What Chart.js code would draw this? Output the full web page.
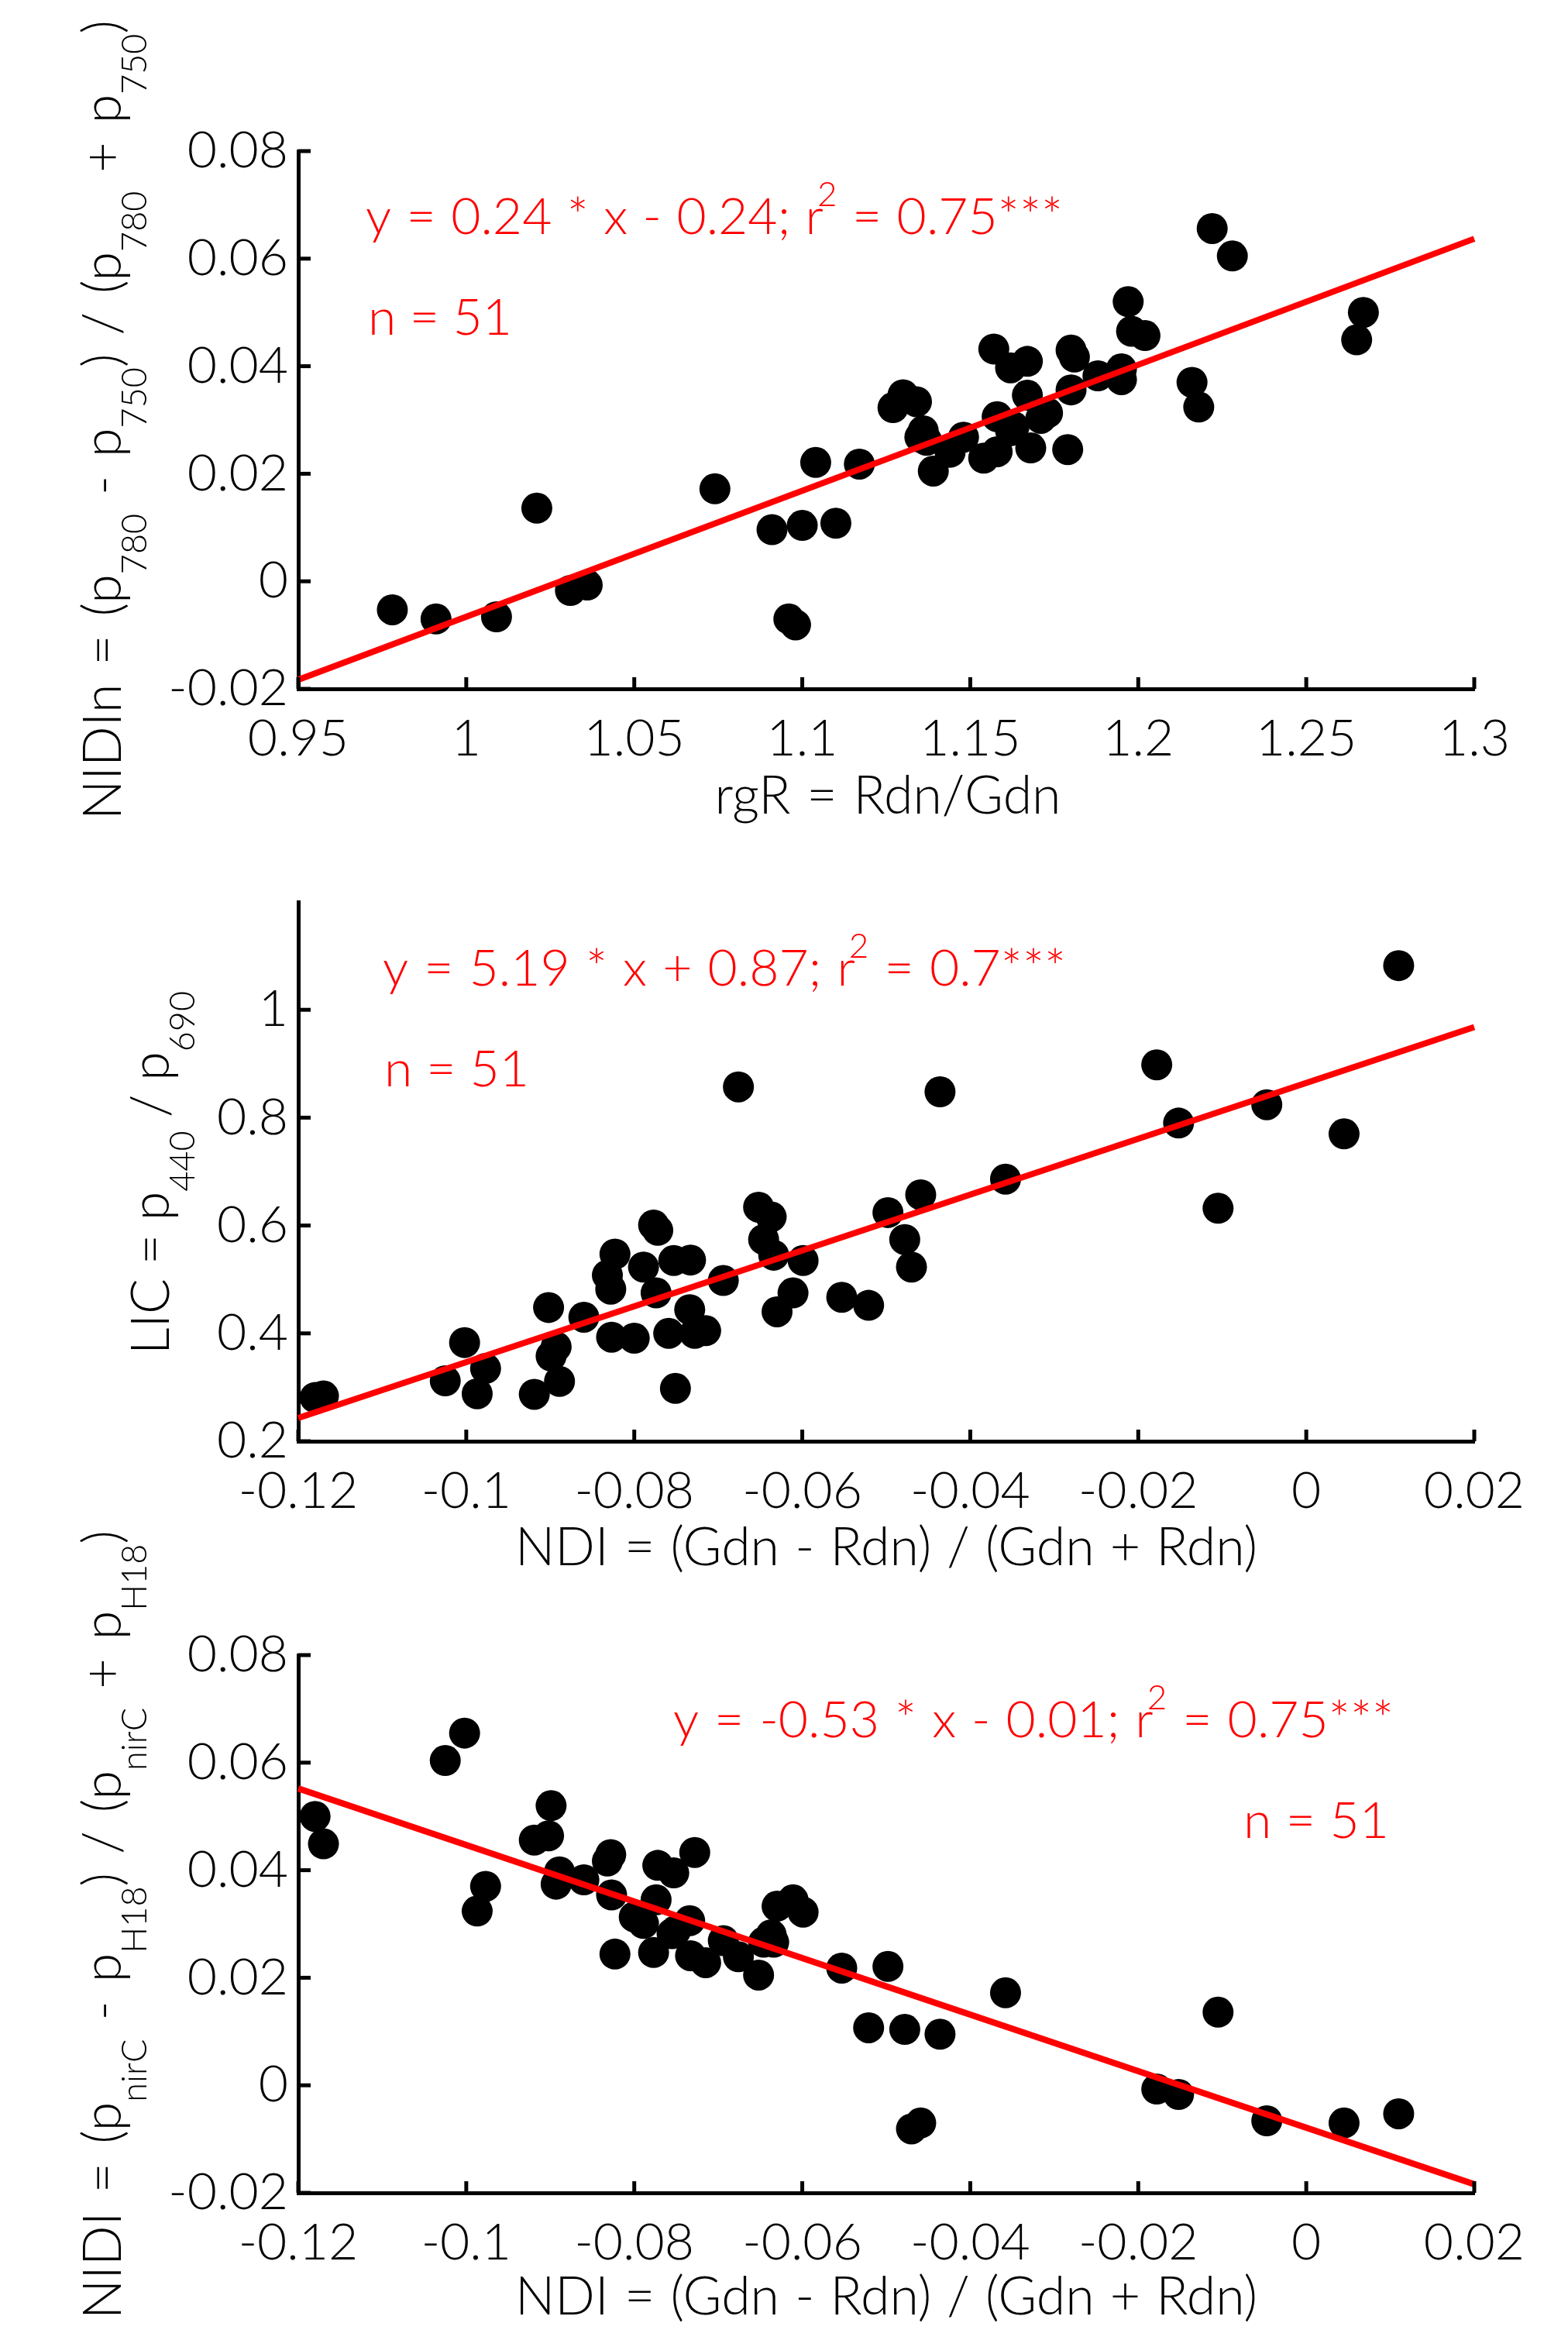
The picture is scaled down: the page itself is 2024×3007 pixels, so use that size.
<!DOCTYPE html>
<html>
<head>
<meta charset="utf-8">
<script src="https://cdn.jsdelivr.net/npm/chart.js@4.4.1/dist/chart.umd.min.js"></script>
<style>
html, body { margin: 0; padding: 0; background: #fff; }
#wrap { position: relative; width: 2024px; height: 3007px; overflow: hidden; background: #fff; }
#wrap canvas { position: absolute; left: 0; top: 0; }
</style>
</head>
<body>
<div id="wrap">
  <canvas id="c1"></canvas>
  <canvas id="c2"></canvas>
  <canvas id="c3"></canvas>
</div>
<script>
// ---------------- DATA ----------------
// Panel 1: rgR vs NIDIn
const rgR = [0.978, 0.991, 1.009, 1.021, 1.031, 1.036, 1.074, 1.091, 1.096, 1.098,
             1.100, 1.104, 1.110, 1.117, 1.127, 1.130, 1.134, 1.135, 1.137, 1.139,
             1.144, 1.148, 1.154, 1.158, 1.157, 1.158, 1.162, 1.162, 1.167, 1.167,
             1.168, 1.171, 1.173, 1.179, 1.180, 1.180, 1.181, 1.188, 1.195, 1.195,
             1.197, 1.198, 1.202, 1.216, 1.218, 1.222, 1.228, 1.265, 1.267, 1.136,
             1.163];
const nidin = [-0.0053, -0.0070, -0.0066, 0.0136, -0.0017, -0.0007, 0.0172, 0.0096, -0.0070, -0.0081,
               0.0104, 0.0221, 0.0108, 0.0218, 0.0323, 0.0347, 0.0334, 0.0268, 0.0262, 0.0205,
               0.0240, 0.0268, 0.0229, 0.0241, 0.0432, 0.0306, 0.0280, 0.0397, 0.0409, 0.0346,
               0.0248, 0.0303, 0.0313, 0.0245, 0.0356, 0.0430, 0.0417, 0.0382, 0.0395, 0.0375,
               0.0520, 0.0465, 0.0457, 0.0370, 0.0324, 0.0656, 0.0605, 0.0449, 0.0500, 0.0280,
               0.0287];
const fit1X = [0.95, 1.3];
const fit1Y = [-0.0183, 0.0637];
const xTicks1 = [0.95, 1, 1.05, 1.1, 1.15, 1.2, 1.25, 1.3];
const xLabels1 = ['0.95', '1', '1.05', '1.1', '1.15', '1.2', '1.25', '1.3'];
const yTicks1 = [-0.02, 0, 0.02, 0.04, 0.06, 0.08];
const yLabels1 = ['-0.02', '0', '0.02', '0.04', '0.06', '0.08'];

// Panel 2: NDI vs LIC
const ndi2 = [-0.1180, -0.1170, -0.1025, -0.1002, -0.0977, -0.0987, -0.0919, -0.0902, -0.0893, -0.0899,
              -0.0889, -0.0860, -0.0823, -0.0832, -0.0828, -0.0827, -0.0800, -0.0789, -0.0777, -0.0772,
              -0.0774, -0.0753, -0.0733, -0.0759, -0.0734, -0.0728, -0.0715, -0.0751, -0.0694, -0.0676,
              -0.0652, -0.0637, -0.0646, -0.0634, -0.0611, -0.0630, -0.0599, -0.0553, -0.0521, -0.0498,
              -0.0459, -0.0478, -0.0470, -0.0436, -0.0358, -0.0178, -0.0152, -0.0105, -0.0047, 0.0045,
              0.0110];
const lic = [0.281, 0.284, 0.312, 0.383, 0.335, 0.288, 0.287, 0.448, 0.375, 0.358,
             0.311, 0.430, 0.547, 0.508, 0.482, 0.393, 0.391, 0.523, 0.601, 0.591,
             0.475, 0.535, 0.536, 0.400, 0.444, 0.400, 0.405, 0.298, 0.498, 0.857,
             0.634, 0.616, 0.574, 0.545, 0.475, 0.440, 0.535, 0.467, 0.452, 0.624,
             0.657, 0.574, 0.523, 0.848, 0.686, 0.898, 0.790, 0.632, 0.824, 0.770,
             1.082];
const fit2X = [-0.12, 0.02];
const fit2Y = [0.243, 0.968];
const xTicksNDI = [-0.12, -0.1, -0.08, -0.06, -0.04, -0.02, 0, 0.02];
const xLabelsNDI = ['-0.12', '-0.1', '-0.08', '-0.06', '-0.04', '-0.02', '0', '0.02'];
const yTicks2 = [0.2, 0.4, 0.6, 0.8, 1];
const yLabels2 = ['0.2', '0.4', '0.6', '0.8', '1'];

// Panel 3: NDI vs NIDI
const ndi3 = [-0.1180, -0.1170, -0.1025, -0.1002, -0.0977, -0.0987, -0.0919, -0.0902, -0.0899, -0.0889,
              -0.0893, -0.0860, -0.0828, -0.0832, -0.0827, -0.0823, -0.0800, -0.0789, -0.0774, -0.0772,
              -0.0753, -0.0728, -0.0777, -0.0755, -0.0734, -0.0733, -0.0715, -0.0694, -0.0676, -0.0652,
              -0.0646, -0.0634, -0.0630, -0.0611, -0.0599, -0.0553, -0.0521, -0.0498, -0.0478, -0.0436,
              -0.0470, -0.0459, -0.0358, -0.0178, -0.0152, -0.0105, -0.0047, 0.0045, 0.0110, -0.0637,
              -0.0751];
const nidi = [0.0500, 0.0449, 0.0604, 0.0655, 0.0370, 0.0324, 0.0456, 0.0464, 0.0520, 0.0397,
              0.0374, 0.0382, 0.0429, 0.0417, 0.0354, 0.0244, 0.0313, 0.0301, 0.0345, 0.0409,
              0.0395, 0.0433, 0.0247, 0.0282, 0.0306, 0.0241, 0.0228, 0.0269, 0.0239, 0.0205,
              0.0266, 0.0266, 0.0333, 0.0345, 0.0322, 0.0218, 0.0107, 0.0221, 0.0104, 0.0095,
              -0.0081, -0.0070, 0.0172, -0.0007, -0.0017, 0.0136, -0.0066, -0.0070, -0.0053, 0.0280,
              0.0287];
const fit3X = [-0.12, 0.02];
const fit3Y = [0.0552, -0.0184];
const yTicks3 = [-0.02, 0, 0.02, 0.04, 0.06, 0.08];
const yLabels3 = ['-0.02', '0', '0.02', '0.04', '0.06', '0.08'];

// ---------------- RENDERING ----------------
const W = 2024, H = 3007, XH = 110;
const FAMILY = 'Lato, "Open Sans", sans-serif';
const WEIGHT = 300;

function drawRich(ctx, pieces, x0, y0, target, size) {
  const fontFor = m => `${WEIGHT} ${m === 'n' ? size : Math.round(size * 0.66)}px ${FAMILY}`;
  const toks = [];
  pieces.forEach(p => {
    if (p.m === 'n') {
      p.t.split(/( )/).forEach(s => { if (s !== '') toks.push({ t: s, m: 'n', space: s === ' ' }); });
    } else toks.push({ t: p.t, m: p.m, space: false });
  });
  let nat = 0, nsp = 0;
  toks.forEach(k => {
    ctx.font = fontFor(k.m);
    k.w = ctx.measureText(k.t).width;
    if (k.m === 'sup') k.w -= size * 0.12;
    nat += k.w;
    if (k.space) nsp++;
  });
  const extra = nsp ? (target - nat) / nsp : 0;
  let x = x0;
  ctx.textAlign = 'left';
  ctx.textBaseline = 'alphabetic';
  toks.forEach(k => {
    ctx.font = fontFor(k.m);
    if (k.space) { x += k.w + extra; return; }
    let dx = 0, dy = 0;
    if (k.m === 'sup') { dx = -size * 0.12; dy = -size * 0.55; }
    if (k.m === 'sub') { dy = size * 0.48; }
    ctx.fillText(k.t, x + dx, y0 + dy);
    x += k.w;
  });
}

function makePanel(id, o) {
  const canvas = document.getElementById(id);
  canvas.width = W; canvas.height = H;
  canvas.style.width = W + 'px'; canvas.style.height = H + 'px';
  const a = o.area;
  const decor = {
    id: 'decor' + id,
    afterDraw(chart) {
      const ctx = chart.ctx, ca = chart.chartArea;
      const xs = chart.scales.x, ys = chart.scales.y;
      ctx.save();
      ctx.fillStyle = '#000';
      o.xTicks.forEach(v => { const px = xs.getPixelForValue(v); ctx.fillRect(px - 2.5, ca.bottom - 15, 5, 15); });
      o.yTicks.forEach(v => { const py = ys.getPixelForValue(v); ctx.fillRect(ca.left, py - 2.5, 16, 5); });
      // x title
      ctx.fillStyle = '#000';
      drawRich(ctx, o.xTitle, o.xTitlePos.cx - o.xTitlePos.w / 2, o.xTitlePos.y, o.xTitlePos.w, 68);
      // y title (rotated)
      ctx.save();
      ctx.translate(o.yTitlePos.x, o.yTitlePos.bottom);
      ctx.rotate(-Math.PI / 2);
      drawRich(ctx, o.yTitle, 0, 0, o.yTitlePos.len, 68);
      ctx.restore();
      // annotations
      ctx.fillStyle = '#ff0000';
      drawRich(ctx, o.eq, o.eqPos.x, o.eqPos.y, o.eqPos.w, 66);
      drawRich(ctx, o.nText, o.nPos.x, o.nPos.y, o.nPos.w, 66);
      ctx.restore();
    }
  };
  const tickFont = { family: FAMILY, size: 66, weight: WEIGHT };
  return new Chart(canvas, {
    type: 'scatter',
    data: {
      datasets: [
        {
          data: o.fitX.map((x, i) => ({ x, y: o.fitY[i] })),
          showLine: true, borderColor: '#ff0000', borderWidth: 8, pointRadius: 0,
          borderCapStyle: 'butt', fill: false, order: 0, clip: false
        },
        {
          data: o.xs.map((x, i) => ({ x, y: o.ys[i] })),
          backgroundColor: '#000', borderColor: '#000', borderWidth: 0,
          pointRadius: 20, pointStyle: 'circle', order: 1, clip: false
        }
      ]
    },
    options: {
      responsive: false, animation: false, events: [],
      layout: { padding: { left: 0, top: a.top, right: W - a.right, bottom: H - a.bottom - XH } },
      plugins: { legend: { display: false }, tooltip: { enabled: false } },
      scales: {
        x: {
          type: 'linear', position: 'bottom', min: o.xRange[0], max: o.xRange[1],
          afterFit: s => { s.height = XH; },
          afterBuildTicks: s => { s.ticks = o.xTicks.map(v => ({ value: v })); },
          ticks: { callback: (v, i) => o.xLabels[i], font: tickFont, color: '#000', padding: 25, maxRotation: 0, autoSkip: false },
          grid: { display: true, drawOnChartArea: false, drawTicks: false },
          border: { display: true, color: '#000', width: 5 }
        },
        y: {
          type: 'linear', position: 'left', min: o.yRange[0], max: o.yRange[1],
          afterFit: s => { s.width = a.left; },
          afterBuildTicks: s => { s.ticks = o.yTicks.map(v => ({ value: v })); },
          ticks: { callback: (v, i) => o.yLabels[i], font: tickFont, color: '#000', padding: 13, autoSkip: false },
          grid: { display: true, drawOnChartArea: false, drawTicks: false },
          border: { display: true, color: '#000', width: 5 }
        }
      }
    },
    plugins: [decor]
  });
}

const ndiTitle = [{ t: 'NDI = (Gdn - Rdn) / (Gdn + Rdn)', m: 'n' }];

function build() {
  makePanel('c1', {
    area: { left: 385, right: 1903, top: 195, bottom: 889 },
    xRange: [0.95, 1.3], yRange: [-0.02, 0.08],
    xs: rgR, ys: nidin, fitX: fit1X, fitY: fit1Y,
    xTicks: xTicks1, xLabels: xLabels1, yTicks: yTicks1, yLabels: yLabels1,
    xTitle: [{ t: 'rgR = Rdn/Gdn', m: 'n' }],
    xTitlePos: { cx: 1146, y: 1050, w: 447 },
    yTitle: [{ t: 'NIDIn = (p', m: 'n' }, { t: '780', m: 'sub' }, { t: ' - p', m: 'n' }, { t: '750', m: 'sub' },
             { t: ') / (p', m: 'n' }, { t: '780', m: 'sub' }, { t: ' + p', m: 'n' }, { t: '750', m: 'sub' }, { t: ')', m: 'n' }],
    yTitlePos: { x: 156, bottom: 1058, len: 1032 },
    eq: [{ t: 'y = 0.24 * x - 0.24; r', m: 'n' }, { t: '2', m: 'sup' }, { t: ' = 0.75***', m: 'n' }],
    eqPos: { x: 472, y: 302, w: 900 },
    nText: [{ t: 'n = 51', m: 'n' }],
    nPos: { x: 475, y: 432, w: 186 }
  });
  makePanel('c2', {
    area: { left: 385, right: 1903, top: 1164, bottom: 1860 },
    xRange: [-0.12, 0.02], yRange: [0.2, 1.2],
    xs: ndi2, ys: lic, fitX: fit2X, fitY: fit2Y,
    xTicks: xTicksNDI, xLabels: xLabelsNDI, yTicks: yTicks2, yLabels: yLabels2,
    xTitle: ndiTitle,
    xTitlePos: { cx: 1144, y: 2020, w: 958 },
    yTitle: [{ t: 'LIC = p', m: 'n' }, { t: '440', m: 'sub' }, { t: ' / p', m: 'n' }, { t: '690', m: 'sub' }],
    yTitlePos: { x: 218, bottom: 1748, len: 469 },
    eq: [{ t: 'y = 5.19 * x + 0.87; r', m: 'n' }, { t: '2', m: 'sup' }, { t: ' = 0.7***', m: 'n' }],
    eqPos: { x: 494, y: 1272, w: 882 },
    nText: [{ t: 'n = 51', m: 'n' }],
    nPos: { x: 496, y: 1402, w: 187 }
  });
  makePanel('c3', {
    area: { left: 385, right: 1903, top: 2136, bottom: 2830 },
    xRange: [-0.12, 0.02], yRange: [-0.02, 0.08],
    xs: ndi3, ys: nidi, fitX: fit3X, fitY: fit3Y,
    xTicks: xTicksNDI, xLabels: xLabelsNDI, yTicks: yTicks3, yLabels: yLabels3,
    xTitle: ndiTitle,
    xTitlePos: { cx: 1144, y: 2987, w: 958 },
    yTitle: [{ t: 'NIDI = (p', m: 'n' }, { t: 'nirC', m: 'sub' }, { t: ' - p', m: 'n' }, { t: 'H18', m: 'sub' },
             { t: ') / (p', m: 'n' }, { t: 'nirC', m: 'sub' }, { t: ' + p', m: 'n' }, { t: 'H18', m: 'sub' }, { t: ')', m: 'n' }],
    yTitlePos: { x: 156, bottom: 2993, len: 1018 },
    eq: [{ t: 'y = -0.53 * x - 0.01; r', m: 'n' }, { t: '2', m: 'sup' }, { t: ' = 0.75***', m: 'n' }],
    eqPos: { x: 869, y: 2242, w: 930 },
    nText: [{ t: 'n = 51', m: 'n' }],
    nPos: { x: 1605, y: 2372, w: 188 }
  });
}

if (document.fonts && document.fonts.load) {
  Promise.all([
    document.fonts.load('300 66px Lato'),
    document.fonts.load('400 66px Lato')
  ]).then(build, build);
} else {
  build();
}
</script>
</body>
</html>
